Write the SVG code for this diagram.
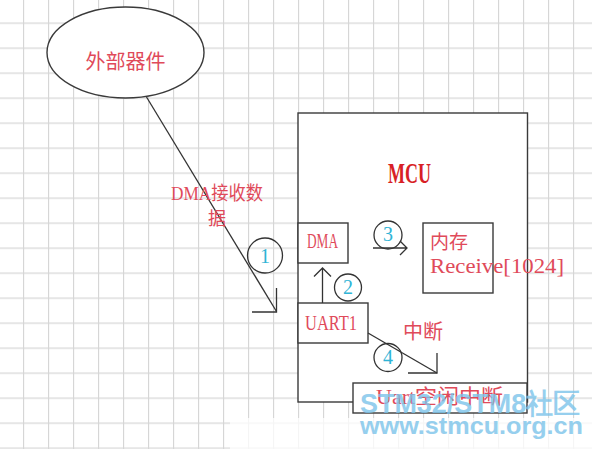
<svg xmlns="http://www.w3.org/2000/svg" width="592" height="449" viewBox="0 0 592 449">
<style>
.box{fill:#fff;stroke:#3a3a3a;stroke-width:1.4}
.ln{fill:none;stroke:#333;stroke-width:1.3}
.red{fill:#e04a5a;font-family:"Liberation Serif","Noto Sans CJK SC",serif}
.cjk{fill:#e04a5a;font-family:"Noto Sans CJK SC",sans-serif}
.num{fill:#2fb4d6;font-family:"Liberation Serif",serif;font-size:20px;text-anchor:middle}
.circ{fill:none;stroke:#333;stroke-width:1.3}
.wm{fill:#7cc4ea;opacity:0.8;font-family:"Liberation Sans",sans-serif;font-weight:bold}
</style>
<defs>
<pattern id="grid" x="23" y="22.5" width="25" height="25" patternUnits="userSpaceOnUse">
<path d="M0 0.5H25M0.5 0V25" stroke="#d6d6d6" stroke-width="1.3" fill="none"/>
</pattern>
</defs>
<rect width="592" height="449" fill="#fff"/>
<rect width="592" height="449" fill="url(#grid)"/>

<g id="mcu">
<rect class="box" x="298" y="113" width="229.5" height="289"/>
<text x="409.5" y="183" font-family="Liberation Serif,serif" font-weight="bold" font-size="29" fill="#d81f26" text-anchor="middle" textLength="43" lengthAdjust="spacingAndGlyphs">MCU</text>
</g>

<g id="external">
<ellipse class="box" cx="125.5" cy="52.5" rx="78.5" ry="45.5"/>
<text class="cjk" x="125.5" y="69" font-size="20" text-anchor="middle">外部器件</text>
</g>

<g id="dma">
<rect class="box" x="298" y="223" width="50" height="40"/>
<text class="red" x="307" y="248" font-size="20" textLength="31" lengthAdjust="spacingAndGlyphs">DMA</text>
</g>

<g id="uart1">
<rect class="box" x="298" y="303" width="70" height="40"/>
<text class="red" x="305" y="329.5" font-size="21" textLength="52" lengthAdjust="spacingAndGlyphs">UART1</text>
</g>

<g id="memory">
<rect class="box" x="423" y="223" width="70" height="70"/>
<text class="cjk" x="430" y="249" font-size="19">内存</text>
<text class="red" x="430" y="272.5" font-size="21" textLength="134" lengthAdjust="spacingAndGlyphs">Receive[1024]</text>
</g>

<g id="idle">
<rect class="box" x="353" y="383" width="174" height="30"/>
<text class="red" x="376" y="404" font-size="20" textLength="127" lengthAdjust="spacingAndGlyphs">Uart空闲中断</text>
</g>

<g id="connectors">
<path class="ln" d="M146.5 97L276.5 311.5"/>
<path class="ln" d="M276.5 288V312H252"/>
<path class="ln" d="M322.5 303V268M314 276.5L322.5 268L331 276.5"/>
<path class="ln" d="M373 248H407M400 241L407 248L400 255"/>
<path class="ln" d="M368 333L437 373"/>
<path class="ln" d="M437 353V373H408"/>
</g>

<g id="labels">
<text class="red" x="171" y="200" font-size="19" textLength="92" lengthAdjust="spacingAndGlyphs">DMA接收数</text>
<text class="cjk" x="208" y="225" font-size="18">据</text>
<text class="cjk" x="403" y="339" font-size="20">中断</text>
</g>

<g id="step1"><circle class="circ" cx="265" cy="255.5" r="17.5"/><text class="num" x="265" y="262.5" font-size="21">1</text></g>
<g id="step2"><circle class="circ" cx="348" cy="287.5" r="13.5"/><text class="num" x="348" y="294" font-size="19">2</text></g>
<g id="step3"><circle class="circ" cx="388" cy="235" r="14"/><text class="num" x="388" y="241" font-size="18">3</text></g>
<g id="step4"><circle class="circ" cx="388" cy="357.5" r="14"/><text class="num" x="388" y="364" font-size="19">4</text></g>

<rect x="230" y="418" width="362" height="31" fill="#fff" opacity="0.75"/>
<g id="watermark">
<text class="wm" x="360" y="413" font-size="28" textLength="220" lengthAdjust="spacingAndGlyphs">STM32/STM8社区</text>
<text class="wm" x="360" y="434" font-size="24" textLength="223" lengthAdjust="spacingAndGlyphs">www.stmcu.org.cn</text>
</g>
</svg>
